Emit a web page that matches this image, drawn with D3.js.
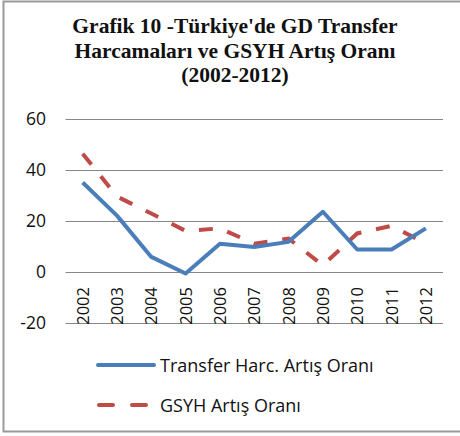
<!DOCTYPE html>
<html>
<head>
<meta charset="utf-8">
<script src="https://cdn.jsdelivr.net/npm/d3@7"></script>
<style>
  body { margin: 0; background: #fff; }
  svg { display: block; }
</style>
</head>
<body>
<svg id="chart" width="460" height="436"></svg>
<script>
const years = ["2002","2003","2004","2005","2006","2007","2008","2009","2010","2011","2012"];
const transferHarc = [35, 22, 5.8, -0.7, 11, 9.7, 11.7, 23.5, 8.7, 8.7, 17];
const gsyh = [46.3, 29.5, 22.8, 16, 17, 11, 13, 2.5, 15, 18, 11];
const yTicks = [-20, 0, 20, 40, 60];
const titleLines = ["Grafik 10 -Türkiye'de GD Transfer", "Harcamaları ve GSYH Artış Oranı", "(2002-2012)"];
const seriesNames = ["Transfer Harc. Artış Oranı", "GSYH Artış Oranı"];

const svg = d3.select("#chart");
const blue = "#4a7ebb", red = "#be4b48";
const sans = "Open Sans, Liberation Sans, sans-serif";

// frame
svg.append("path")
  .attr("d", "M460,1.5 H3.5 V431.5 H460")
  .attr("fill", "none").attr("stroke", "#9a9a9a").attr("stroke-width", 2);

// title
svg.append("g").selectAll("text").data(titleLines).enter().append("text")
  .attr("x", 235).attr("y", (d, i) => 33 + i * 24.5)
  .attr("text-anchor", "middle")
  .attr("font-family", "Liberation Serif, Times New Roman, serif")
  .attr("font-weight", "bold").attr("font-size", 21.5).attr("fill", "#111")
  .text(d => d);

const x = d3.scaleBand().domain(years).range([65.5, 443]);
const y = d3.scaleLinear().domain([-20, 60]).range([322.7, 118.7]);

// gridlines
svg.append("g").selectAll("line").data(yTicks).enter().append("line")
  .attr("x1", 65.5).attr("x2", 443)
  .attr("y1", d => Math.round(y(d)) + 0.5).attr("y2", d => Math.round(y(d)) + 0.5)
  .attr("stroke", "#868686").attr("stroke-width", 1);

const yAxis = svg.append("g").attr("transform", "translate(46,0)")
  .call(d3.axisLeft(y).tickValues(yTicks).tickFormat(d => String(d)).tickSize(0).tickPadding(0));
yAxis.select(".domain").remove();
yAxis.selectAll("text").attr("font-family", sans)
  .attr("font-size", 17.5).attr("fill", "#111");

// rotated year labels
svg.append("g").selectAll("text").data(years).enter().append("text")
  .attr("transform", d => `translate(${x(d) + x.bandwidth() / 2 + 6},287) rotate(-90)`)
  .attr("text-anchor", "end")
  .attr("font-family", sans)
  .attr("font-size", 16.5).attr("fill", "#111")
  .text(d => d);

const line = d3.line()
  .x((d, i) => x(years[i]) + x.bandwidth() / 2)
  .y(d => y(d));

svg.append("path").datum(gsyh)
  .attr("d", line).attr("fill", "none")
  .attr("stroke", red).attr("stroke-width", 4)
  .attr("stroke-dasharray", "14,15");

svg.append("path").datum(transferHarc)
  .attr("d", line).attr("fill", "none")
  .attr("stroke", blue).attr("stroke-width", 4)
  .attr("stroke-linejoin", "round");

// legend
const legend = svg.append("g");
const legY = [365, 405];
legend.append("line").attr("x1", 98).attr("x2", 154).attr("y1", legY[0]).attr("y2", legY[0])
  .attr("stroke", blue).attr("stroke-width", 4).attr("stroke-linecap", "round");
legend.append("line").attr("x1", 99).attr("x2", 154).attr("y1", legY[1]).attr("y2", legY[1])
  .attr("stroke", red).attr("stroke-width", 4).attr("stroke-linecap", "round")
  .attr("stroke-dasharray", "14,19");
legend.selectAll("text").data(seriesNames).enter().append("text")
  .attr("x", 160).attr("y", (d, i) => legY[i] + 6.5)
  .attr("font-family", sans)
  .attr("font-size", 18).attr("fill", "#111")
  .text(d => d);
</script>
</body>
</html>
